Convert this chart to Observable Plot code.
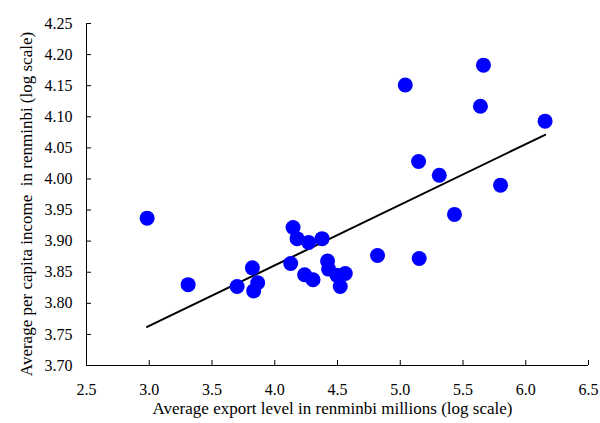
<!DOCTYPE html>
<html>
<head>
<meta charset="utf-8">
<script src="https://cdn.jsdelivr.net/npm/d3@7"></script>
<script src="https://cdn.jsdelivr.net/npm/@observablehq/plot@0.6"></script>
<style>
  html, body { margin: 0; padding: 0; background: #fff; }
  #chart svg { display: block; }
</style>
</head>
<body>
<div id="chart"></div>
<script>
// Data
const exportLevel = [2.983, 3.310, 3.700, 3.822, 3.864, 3.832, 4.127, 4.146, 4.178, 4.270,
                     4.377, 4.238, 4.305, 4.421, 4.429, 4.496, 4.562, 4.522, 4.819, 5.040,
                     5.663, 5.639, 6.154, 5.146, 5.311, 5.799, 5.432, 5.151];
const income      = [3.937, 3.830, 3.827, 3.857, 3.833, 3.820, 3.864, 3.922, 3.904, 3.898,
                     3.904, 3.846, 3.838, 3.868, 3.855, 3.845, 3.848, 3.827, 3.877, 4.151,
                     4.183, 4.117, 4.093, 4.028, 4.006, 3.990, 3.943, 3.872];
// Fitted trend line end points
const fitX = [2.983, 6.154];
const fitY = [3.762, 4.071];
// Axes
const xTicks = [2.5, 3.0, 3.5, 4.0, 4.5, 5.0, 5.5, 6.0, 6.5];
const yTicks = [3.70, 3.75, 3.80, 3.85, 3.90, 3.95, 4.00, 4.05, 4.10, 4.15, 4.20, 4.25];
const xTitle = "Average export level in renminbi millions (log scale)";
const yTitle = "Average per capita income\u00a0 in renminbi (log scale)";

const points = exportLevel.map((x, i) => ({x, y: income[i]}));
const fit = fitX.map((x, i) => ({x, y: fitY[i]}));
const serif = "'Liberation Serif', 'Times New Roman', serif";

const chart = Plot.plot({
  width: 600,
  height: 423,
  marginLeft: 86,
  marginRight: 12,
  marginTop: 23,
  marginBottom: 58,
  style: {fontFamily: serif, fontSize: "16px", color: "#000", background: "#fff"},
  x: {domain: [xTicks[0], xTicks[xTicks.length - 1]]},
  y: {domain: [yTicks[0], yTicks[yTicks.length - 1]]},
  marks: [
    Plot.axisX({ticks: xTicks, tickFormat: d3.format(".1f"), tickSize: -5, tickPadding: 23, label: null, stroke: "#000", fill: "#000", fontSize: 16}),
    Plot.axisY({ticks: yTicks, tickFormat: d3.format(".2f"), tickSize: -5, tickPadding: 19, label: null, stroke: "#000", fill: "#000", fontSize: 16}),
    Plot.ruleX([xTicks[0]], {stroke: "#000", strokeWidth: 1}),
    Plot.ruleY([yTicks[0]], {stroke: "#000", strokeWidth: 1}),
    Plot.line(fit, {x: "x", y: "y", stroke: "#000", strokeWidth: 2}),
    Plot.dot(points, {x: "x", y: "y", r: 7.5, fill: "#0000ff", stroke: "none"}),
    Plot.text([xTitle], {frameAnchor: "bottom", dx: -5, dy: 48, fontSize: 17, fill: "#000"})
  ]
});
d3.select(chart).append("text")
  .attr("transform", "translate(28,204) rotate(-90)")
  .attr("text-anchor", "middle")
  .attr("dominant-baseline", "middle")
  .attr("font-family", serif)
  .attr("font-size", 17)
  .attr("fill", "#000")
  .text(yTitle);
document.getElementById("chart").appendChild(chart);
</script>
</body>
</html>
